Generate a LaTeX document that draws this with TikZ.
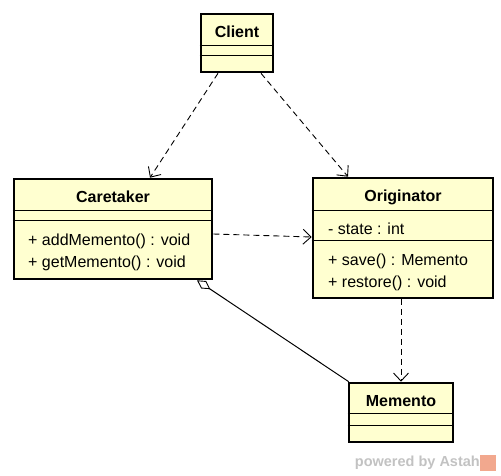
\documentclass[tikz,border=0pt]{standalone}
\usepackage{fontspec}
\setmainfont{Liberation Sans}
\usetikzlibrary{positioning, arrows.meta, calc}
\definecolor{umlFill}{HTML}{FFFFD0}
\definecolor{astahGray}{HTML}{C2C2C2}
\definecolor{astahOrange}{HTML}{F2A88E}
\tikzset{
  classbox/.style={rectangle, draw=black, line width=2.6pt, fill=umlFill,
    inner sep=0pt},
  classname/.style={font=\fontsize{16}{18}\selectfont\bfseries, inner sep=0pt},
  member/.style={font=\fontsize{16}{18}\selectfont, inner sep=0pt, anchor=west},
  divider/.style={line width=0.9pt, black},
  depline/.style={-{Straight Barb[length=8pt, width=15pt, line width=0.9pt]},
    line width=0.9pt, dash pattern=on 6pt off 4pt},
  aggline/.style={{Diamond[open, length=16pt, width=9pt, line width=0.9pt]}-,
    line width=1pt},
}
\begin{document}
\begin{tikzpicture}[x=1pt, y=-1pt]
    \useasboundingbox (0,0) rectangle (501,476);
    % classes
    \node[classbox, minimum width=72pt, minimum height=58pt] (client) at (237,43) {};
    \node[classname] (clientname) at (237,32) {Client};
    \draw[divider] ($(client.north west)+(0,33)$) -- ($(client.north east)+(0,33)$);
    \draw[divider] ($(client.north west)+(0,43)$) -- ($(client.north east)+(0,43)$);

    \node[classbox, minimum width=198pt, minimum height=100pt] (caretaker) at (113,229) {};
    \node[classname] (caretakername) at (113,197) {Caretaker};
    \draw[divider] ($(caretaker.north west)+(0,33)$) -- ($(caretaker.north east)+(0,33)$);
    \draw[divider] ($(caretaker.north west)+(0,43)$) -- ($(caretaker.north east)+(0,43)$);
    \node[member] (addmemento) at (28,241) {+ addMemento() : void};
    \node[member] (getmemento) at (28,263) {+ getMemento() : void};

    \node[classbox, minimum width=180pt, minimum height=120pt] (originator) at (403,238) {};
    \node[classname] (originatorname) at (403,197) {Originator};
    \draw[divider] ($(originator.north west)+(0,34)$) -- ($(originator.north east)+(0,34)$);
    \draw[divider] ($(originator.north west)+(0,64)$) -- ($(originator.north east)+(0,64)$);
    \node[member] (state) at (328,229) {- state : int};
    \node[member] (save) at (328,261) {+ save() : Memento};
    \node[member] (restore) at (328,283) {+ restore() : void};

    \node[classbox, minimum width=104pt, minimum height=59pt] (memento) at (401,412.5) {};
    \node[classname] (mementoname) at (401,401) {Memento};
    \draw[divider] ($(memento.north west)+(0,32)$) -- ($(memento.north east)+(0,32)$);
    \draw[divider] ($(memento.north west)+(0,44)$) -- ($(memento.north east)+(0,44)$);

    % relations
    \draw[depline] ($(client.south)+(-19,0)$) -- ($(caretaker.north)+(37,0)$);
    \draw[depline] ($(client.south)+(24,0)$) -- ($(originator.north)+(-55,0)$);
    \draw[depline] ($(caretaker.east)+(0,5)$) -- ($(originator.west)+(0,-1)$);
    \draw[depline] ($(originator.south)+(-2,0)$) -- (memento.north);
    \draw[aggline] ($(caretaker.south)+(84,0)$) -- ($(memento.north west)+(1,0)$);

    % watermark
    \node[font=\fontsize{14.5}{16}\selectfont\bfseries, text=astahGray, anchor=east,
          inner sep=0pt] (poweredby) at (480,463) {powered by Astah};
    \node[fill=astahOrange, minimum size=16pt, inner sep=0pt,
          right=0pt of poweredby] (astahlogo) {};
\end{tikzpicture}
\end{document}
